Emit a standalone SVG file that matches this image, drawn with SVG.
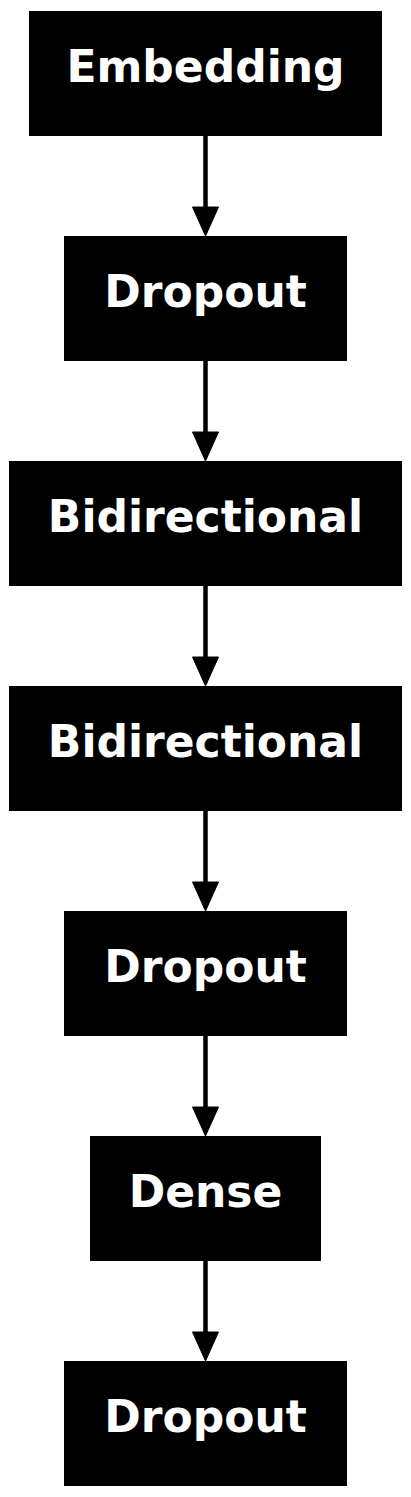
<svg xmlns="http://www.w3.org/2000/svg" width="411" height="1497" viewBox="0 0 411 1497">
<style>
.n rect{fill:#000;stroke:#000;stroke-width:1}
.n text{fill:#fff;font-family:"DejaVu Sans",sans-serif;font-weight:bold;font-size:44px;text-anchor:middle}
.e line{stroke:#000;stroke-width:4.5}
.e path{fill:#000;stroke:#000;stroke-width:1}
</style>
<rect width="411" height="1497" fill="#fff"/>
<g id="edges" class="e">
<line x1="205.5" y1="136" x2="205.5" y2="208"/><path d="M192.5,207 L218.5,207 L205.5,236 Z"/>
<line x1="205.5" y1="361" x2="205.5" y2="433"/><path d="M192.5,432 L218.5,432 L205.5,461 Z"/>
<line x1="205.5" y1="586" x2="205.5" y2="658"/><path d="M192.5,657 L218.5,657 L205.5,686 Z"/>
<line x1="205.5" y1="811" x2="205.5" y2="883"/><path d="M192.5,882 L218.5,882 L205.5,911 Z"/>
<line x1="205.5" y1="1036" x2="205.5" y2="1108"/><path d="M192.5,1107 L218.5,1107 L205.5,1136 Z"/>
<line x1="205.5" y1="1261" x2="205.5" y2="1333"/><path d="M192.5,1332 L218.5,1332 L205.5,1361 Z"/>
</g>
<g id="n1" class="n"><rect x="29.5" y="11.5" width="352" height="124"/><text x="205.5" y="82">Embedding</text></g>
<g id="n2" class="n"><rect x="64.5" y="236.5" width="282" height="124"/><text x="205.5" y="307">Dropout</text></g>
<g id="n3" class="n"><rect x="9.5" y="461.5" width="392" height="124"/><text x="205.5" y="532">Bidirectional</text></g>
<g id="n4" class="n"><rect x="9.5" y="686.5" width="392" height="124"/><text x="205.5" y="757">Bidirectional</text></g>
<g id="n5" class="n"><rect x="64.5" y="911.5" width="282" height="124"/><text x="205.5" y="982">Dropout</text></g>
<g id="n6" class="n"><rect x="90.5" y="1136.5" width="230" height="124"/><text x="205.5" y="1207">Dense</text></g>
<g id="n7" class="n"><rect x="64.5" y="1361.5" width="282" height="124"/><text x="205.5" y="1432">Dropout</text></g>
</svg>
